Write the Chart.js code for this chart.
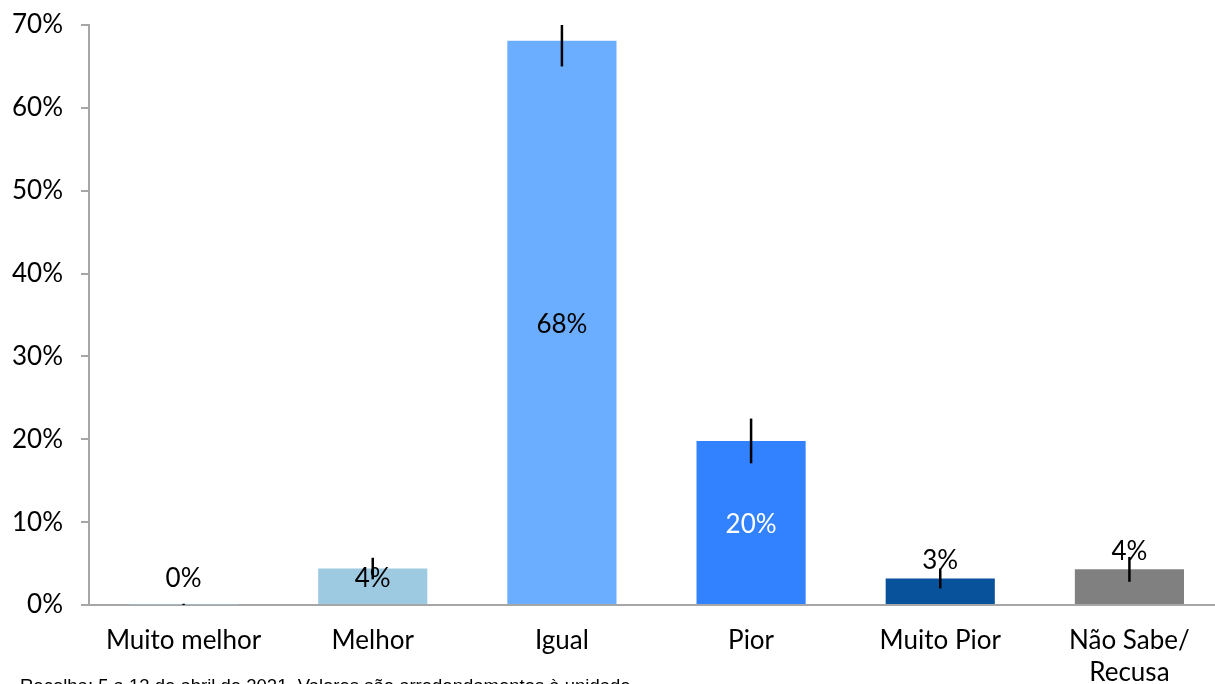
<!DOCTYPE html>
<html>
<head>
<meta charset="utf-8">
<script src="https://cdn.jsdelivr.net/npm/chart.js@4.4.1/dist/chart.umd.min.js"></script>
<style>
  html, body { margin: 0; padding: 0; background: #fff; overflow: hidden; }
  #wrap { position: relative; width: 1224px; height: 684px; }
</style>
</head>
<body>
<div id="wrap"><canvas id="c" width="1224" height="684"></canvas></div>
<script>
const categories = ['Muito melhor', 'Melhor', 'Igual', 'Pior', 'Muito Pior', ['Não Sabe/', 'Recusa']];
const values = [0.05, 4.4, 68.1, 19.8, 3.2, 4.3];
const labels = ['0%', '4%', '68%', '20%', '3%', '4%'];
const errors = [0.1, 1.3, 3.1, 2.7, 1.2, 1.5];
const colors = ['#9ecae1', '#9ecae1', '#6baeff', '#3282ff', '#08529c', '#808080'];
const labelColors = ['#000', '#000', '#000', '#fff', '#000', '#000'];
const labelAnchor = ['base', 'base', 'center', 'center', 'top', 'top'];
const yTicks = [0, 10, 20, 30, 40, 50, 60, 70];
const footnote = 'Recolha: 5 a 13 de abril de 2021. Valores são arredondamentos à unidade';

const FONT = 'Lato, "Open Sans", sans-serif';

const extras = {
  id: 'extras',
  afterDatasetsDraw(chart) {
    const ctx = chart.ctx;
    const meta = chart.getDatasetMeta(0);
    const y = chart.scales.y;
    ctx.save();
    // error bars (clipped to the plot range)
    ctx.strokeStyle = '#000';
    ctx.lineWidth = 2.5;
    meta.data.forEach((bar, i) => {
      const top = y.getPixelForValue(Math.min(y.max, values[i] + errors[i]));
      const bot = y.getPixelForValue(Math.max(0, values[i] - errors[i]));
      ctx.beginPath();
      ctx.moveTo(bar.x, top);
      ctx.lineTo(bar.x, bot);
      ctx.stroke();
    });
    // value labels
    ctx.font = '26px ' + FONT;
    ctx.textAlign = 'center';
    ctx.textBaseline = 'middle';
    meta.data.forEach((bar, i) => {
      let ly;
      if (labelAnchor[i] === 'center') ly = (bar.y + bar.base) / 2 + 2;
      else if (labelAnchor[i] === 'base') ly = bar.base - 25;
      else ly = bar.y - 18;
      ctx.fillStyle = labelColors[i];
      ctx.fillText(labels[i], bar.x, ly);
    });
    ctx.restore();
  },
  afterDraw(chart) {
    const ctx = chart.ctx;
    ctx.save();
    ctx.font = '18.5px "Liberation Sans", Arial, sans-serif';
    ctx.fillStyle = '#000';
    ctx.textAlign = 'left';
    ctx.textBaseline = 'alphabetic';
    ctx.fillText(footnote, 20, 692);
    ctx.restore();
  }
};

new Chart(document.getElementById('c'), {
  type: 'bar',
  data: {
    labels: categories,
    datasets: [{
      data: values,
      backgroundColor: colors,
      borderWidth: 0,
      barPercentage: 0.577,
      categoryPercentage: 1.0
    }]
  },
  options: {
    responsive: false,
    animation: false,
    devicePixelRatio: 1,
    layout: { padding: { top: 25, left: 0, right: 0, bottom: 0 } },
    plugins: { legend: { display: false }, tooltip: { enabled: false } },
    scales: {
      x: {
        grid: { display: false, drawTicks: false },
        border: { display: true, color: '#a6a6a6', width: 2 },
        ticks: {
          color: '#000',
          font: { family: FONT, size: 26, lineHeight: 1.23 },
          padding: 20,
          maxRotation: 0,
          autoSkip: false
        },
        afterFit(scale) { scale.height = 79; scale.paddingLeft = 0; scale.paddingRight = 0; }
      },
      y: {
        min: 0,
        max: 70,
        afterBuildTicks(scale) { scale.ticks = yTicks.map(v => ({ value: v })); },
        grid: { drawOnChartArea: false, drawTicks: true, tickLength: 8, color: '#a6a6a6', lineWidth: 2 },
        border: { display: true, color: '#a6a6a6', width: 2 },
        ticks: {
          color: '#000',
          font: { family: FONT, size: 26 },
          padding: 18,
          callback: v => v + '%'
        },
        afterFit(scale) { scale.width = 89; scale.paddingTop = 0; scale.paddingBottom = 0; }
      }
    }
  },
  plugins: [extras]
});
</script>
</body>
</html>
